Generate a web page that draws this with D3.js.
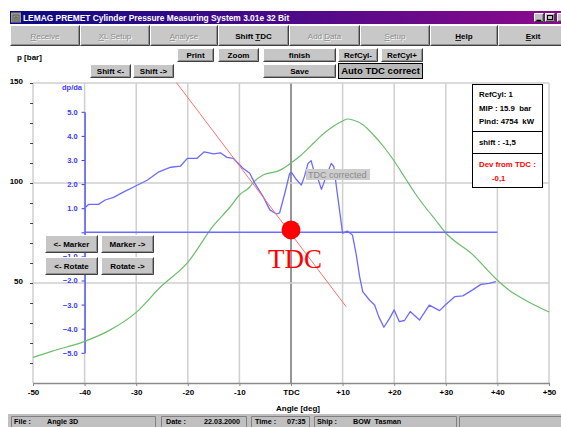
<!DOCTYPE html>
<html><head><meta charset="utf-8">
<script src="https://cdn.jsdelivr.net/npm/d3@7"></script>
<style>
body{margin:0;background:#fff;overflow:hidden}
svg{display:block;font-family:"Liberation Sans",Arial,sans-serif}
</style>
</head><body>
<svg id="c" width="561" height="427"></svg>
<script>
// ---------------- data ----------------
const angleTicks = [-50,-40,-30,-20,-10,0,10,20,30,40,50];
const pressureTicks = [10,20,30,40,50,60,70,80,90,100,110,120,130,140,150];
const pressureLabels = [50,100,150];
const dpTicks = [-5,-4,-3,-2,-1,0,1,2,3,4,5];
const dpLabels = [-5,-4,-3,-2,-1,1,2,3,4,5];

// cylinder pressure p [bar] vs crank angle
const pressureAngles = [-50,-46.4,-40,-35.2,-30,-25.3,-20,-15,-11.8,-10,-8,-7.4,-5.4,-2.2,0,2,4.6,6,8,10,11,12,14,16,18,20,22,24,26,28,30,35,40,42.3,45,50];
const pressureValues = [12.8,15.8,20.8,26.3,35.3,48,60.3,78.8,88,94,98,100,104,106.3,110,114,120.5,124,128,131,132,131.5,129,124,118,111,103,95,88,81.5,75,64.7,51.4,46.4,42,35.5];

// pressure rise rate dp/da vs crank angle
const dpAngles = [-40,-39.2,-37.3,-36,-34.4,-32.4,-30.1,-27.8,-25.6,-23.3,-21.4,-20.1,-18.2,-16.8,-15,-13.7,-12.4,-11.2,-9.3,-8,-7,-5.4,-4.1,-2.8,-2.2,-1.2,-0.25,0.1,1,2,2.6,3.3,3.9,4.4,5.2,5.9,6.8,7.8,8.3,8.8,9.4,10,10.9,11.9,12.6,13.3,13.9,15.2,16.2,17,18,19.1,20,21,22,23.1,24.9,26.8,28.8,29.9,31.7,33.3,35.2,36.8,38.4,39.7];
const dpValues = [1.0,1.16,1.16,1.34,1.45,1.68,1.92,2.17,2.51,2.70,2.75,3.07,3.07,3.34,3.25,3.30,3.11,3.07,2.66,2.45,2.03,1.48,0.93,0.76,0.81,1.62,2.45,2.49,2.20,1.96,2.31,2.86,2.97,2.58,2.24,1.78,2.31,2.86,2.72,1.89,0.93,-0.04,0.05,-0.11,-0.87,-1.84,-2.46,-2.81,-3.02,-3.50,-3.94,-3.57,-3.22,-3.71,-3.66,-3.29,-3.64,-3.02,-3.25,-3.02,-2.67,-2.64,-2.39,-2.16,-2.12,-2.05];

// zero reference line of dp/da and the tangent line
const zeroLineAngles = [-40,40];
const zeroLineValues = [0,0];
const tangentAngles = [-22.2,10.7];
const tangentValues = [6.21,-3.09];
const tdcPointAngle = [0];
const tdcPointValue = [0.1];

const infoLines = ["RefCyl: 1","MIP : 15.9  bar","Pind: 4754  kW"];
const shiftText = "shift : -1,5";
const devTexts = ["Dev from TDC :","-0,1"];

const menuItems = ["Receive","XL Setup","Analyse","Shift TDC","Add Data","Setup","Help","Exit"];
const menuUnder = [0,0,0,6,4,0,0,0];
const menuEnabled = [false,false,false,true,false,false,true,true];

const statusTexts = [["File :",14],["Angle 3D",47],["Date :",166],["22.03.2000",204],["Time :",255],["07:35",287],["Ship :",317],["BOW  Tasman",353]];

// ---------------- drawing ----------------
const svg = d3.select("#c");

function bevel(g, x0, y0, w, h, fill, pressed){
  g.append("rect").attr("x",x0).attr("y",y0).attr("width",w).attr("height",h).attr("fill",fill);
  const hi = pressed ? "#404040" : "#ffffff";
  const lo = pressed ? "#ffffff" : "#404040";
  g.append("path").attr("d",`M${x0+0.5},${y0+h-0.5}V${y0+0.5}H${x0+w-0.5}`).attr("fill","none").attr("stroke",hi);
  g.append("path").attr("d",`M${x0+0.5},${y0+h-0.5}H${x0+w-0.5}V${y0+0.5}`).attr("fill","none").attr("stroke",lo);
  if(!pressed) g.append("path").attr("d",`M${x0+1.5},${y0+h-1.5}H${x0+w-1.5}V${y0+1.5}`).attr("fill","none").attr("stroke","#909090");
}
function button(x0,y0,w,h,label,opt={}){
  const g = svg.append("g");
  bevel(g,x0,y0,w,h,opt.fill||"#c6c6c6",opt.pressed);
  if(opt.border) g.append("rect").attr("x",x0+0.5).attr("y",y0+0.5).attr("width",w-1).attr("height",h-1).attr("fill","none").attr("stroke","#000");
  g.append("text").attr("x",x0+w/2).attr("y",y0+h/2).attr("dy","0.35em").attr("text-anchor","middle")
    .attr("font-size",opt.size||8).attr("font-weight",opt.weight||"bold").attr("fill","#000").text(label);
  return g;
}

// title bar
const grad = svg.append("defs").append("linearGradient").attr("id","tg");
grad.append("stop").attr("offset","0").attr("stop-color","#0a0a84");
grad.append("stop").attr("offset","1").attr("stop-color","#8c0a8c");
svg.append("rect").attr("x",10).attr("y",11).attr("width",551).attr("height",13).attr("fill","url(#tg)");
svg.append("rect").attr("x",11).attr("y",12.5).attr("width",10).attr("height",10).attr("fill","#9a9a8a");
svg.append("path").attr("d","M13,22V15H19V22M15,22V17H17V22").attr("fill","none").attr("stroke","#505040").attr("stroke-width",0.8);
svg.append("text").attr("x",23).attr("y",21).attr("font-size",8.4).attr("font-weight","bold").attr("fill","#fff")
  .text("LEMAG PREMET Cylinder Pressure Measuring System 3.01e 32 Bit");
[534,545,557].forEach(bx=>{ const g=svg.append("g"); bevel(g,bx,13,10,9,"#c0c0c0"); });
svg.append("path").attr("d","M536.5,20.5H541").attr("stroke","#000").attr("stroke-width",1.5);
svg.append("rect").attr("x",547.5).attr("y",15.5).attr("width",5).attr("height",4).attr("fill","none").attr("stroke","#000");

// menu bar
svg.append("rect").attr("x",10).attr("y",25).attr("width",551).attr("height",21).attr("fill","#c0c0c0");
const menuX = [10,80,150,218,289,360,430,498,568];
menuItems.forEach((m,i)=>{
  const g = svg.append("g");
  const x0 = menuX[i], w = menuX[i+1]-menuX[i];
  bevel(g,x0,25,w,21,"#c8c8c8");
  const cx = x0+w/2;
  const mk = (dx,dy,col)=>{
    const t = g.append("text").attr("x",cx+dx).attr("y",39+dy).attr("text-anchor","middle")
      .attr("font-size",8).attr("font-weight", menuEnabled[i]?"bold":"normal").attr("fill",col);
    const u = menuUnder[i];
    t.append("tspan").text(m.slice(0,u));
    t.append("tspan").attr("text-decoration","underline").text(m.slice(u,u+1));
    t.append("tspan").text(m.slice(u+1));
  };
  if(menuEnabled[i]) mk(0,0,"#000");
  else { mk(0.8,0.8,"#ffffff"); mk(0,0,"#8a8a8a"); }
});

// toolbar buttons
button(177,48,37,14,"Print");
button(218,48,41,14,"Zoom");
button(263,48,73,14,"finish");
button(338,48,40,14,"RefCyl-");
button(381,48,42,14,"RefCyl+");
button(90,64,41,14,"Shift <-");
button(133,64,41,14,"Shift ->");
button(263,64,73,14,"Save");
button(338,63,85,16,"Auto TDC correct",{pressed:true,border:true,fill:"#b8b8b8",size:9.5,weight:"bold"});

svg.append("text").attr("x",17).attr("y",60).attr("font-size",8).attr("font-weight","bold").text("p [bar]");

// scales
const x = d3.scaleLinear().domain([-50,50]).range([33,549]);
const yP = d3.scaleLinear().domain([0,150]).range([383,83]);
const yD = d3.scaleLinear().domain([-5,5]).range([352.8,111.8]);

// grid
const grid = svg.append("g");
grid.selectAll("line.v").data(angleTicks).join("line")
  .attr("x1",d=>x(d)).attr("x2",d=>x(d)).attr("y1",yP(150)).attr("y2",yP(0))
  .attr("stroke",d=>d===0?"#505050":"#cfcfcf").attr("stroke-width",d=>d===0?1.2:1.5);
grid.selectAll("line.h").data(pressureLabels).join("line")
  .attr("x1",x(-50)).attr("x2",x(50)).attr("y1",d=>yP(d)).attr("y2",d=>yP(d))
  .attr("stroke","#cfcfcf").attr("stroke-width",1.5);

// x axis
const xa = svg.append("g").attr("transform",`translate(0,${yP(0)})`)
  .call(d3.axisBottom(x).tickValues(angleTicks).tickSize(3).tickSizeOuter(0).tickPadding(3)
    .tickFormat(d=>d===0?"TDC":(d>0?"+"+d:String(d))));
xa.attr("font-family",null);
xa.select(".domain").attr("stroke","#8a8a8a").attr("stroke-width",1.5);
xa.selectAll(".tick line").attr("stroke","#8a8a8a");
xa.selectAll("text").attr("font-size",8).attr("font-weight","bold").attr("fill","#000");
svg.append("text").attr("x",298).attr("y",411).attr("text-anchor","middle").attr("font-size",8).attr("font-weight","bold").text("Angle [deg]");

// left pressure axis
const ya = svg.append("g").attr("transform",`translate(${x(-50)},0)`)
  .call(d3.axisLeft(yP).tickValues(pressureTicks).tickSize(3).tickSizeOuter(0).tickPadding(7)
    .tickFormat(d=>pressureLabels.includes(d)?String(d):""));
ya.attr("font-family",null);
ya.select(".domain").remove();
ya.selectAll(".tick line").attr("stroke","#404040");
ya.selectAll("text").attr("font-size",8).attr("font-weight","bold").attr("fill","#000").attr("dy","0.1em");

// dp/da axis
const blue = "#3a3aff";
const da = svg.append("g").attr("transform",`translate(${x(-40)},0)`)
  .call(d3.axisLeft(yD).tickValues(dpTicks).tickSize(3).tickSizeOuter(0).tickPadding(4)
    .tickFormat(d=>dpLabels.includes(d)?d3.format(".1f")(d):""));
da.attr("font-family",null);
da.select(".domain").attr("stroke",blue).attr("stroke-width",1.2);
da.selectAll(".tick line").attr("stroke",blue);
da.selectAll("text").attr("font-size",7.5).attr("font-weight","bold").attr("fill",blue);
svg.append("text").attr("x",82).attr("y",90).attr("text-anchor","end").attr("font-size",7.5).attr("font-weight","bold").attr("fill",blue).text("dp/da");

// curves
const lineP = d3.line().x((d,i)=>x(pressureAngles[i])).y(d=>yP(d)).curve(d3.curveMonotoneX);
svg.append("path").attr("d",lineP(pressureValues)).attr("fill","none").attr("stroke","#6cbd6c").attr("stroke-width",1.2);

const lineD = (angles)=>d3.line().x((d,i)=>x(angles[i])).y(d=>yD(d));
svg.append("path").attr("d",lineD(zeroLineAngles)(zeroLineValues)).attr("fill","none").attr("stroke","#6b6bff").attr("stroke-width",1.4);
svg.append("path").attr("d",lineD(dpAngles)(dpValues)).attr("fill","none").attr("stroke","#6b6bff").attr("stroke-width",1.3).attr("stroke-linejoin","round");
svg.append("path").attr("d",lineD(tangentAngles)(tangentValues)).attr("fill","none").attr("stroke","#ff6f6f").attr("stroke-width",1);

// TDC corrected label
svg.append("rect").attr("x",306).attr("y",169).attr("width",64).attr("height",11).attr("fill","#cdcdcd");
svg.append("text").attr("x",308).attr("y",178).attr("font-size",9).attr("fill","#8a8a8a").text("TDC corrected");

// TDC point
svg.selectAll("circle.tdc").data(tdcPointValue).join("circle")
  .attr("cx",(d,i)=>x(tdcPointAngle[i])).attr("cy",d=>yD(d)).attr("r",9.5).attr("fill","#ff0000");
svg.append("text").attr("x",x(0)-23).attr("y",268)
  .style("font-family","'Liberation Serif','Times New Roman',serif")
  .attr("font-size",27).attr("fill","#ff0000").text("TDC");

// marker / rotate buttons
button(45,235,53,18,"<- Marker");
button(101,235,53,18,"Marker ->");
button(45,257,53,18,"<- Rotate");
button(101,257,53,18,"Rotate ->");

// info box
svg.append("rect").attr("x",472.5).attr("y",84.5).attr("width",70).attr("height",103).attr("fill","#fff").attr("stroke","#000");
svg.append("line").attr("x1",472.5).attr("x2",542.5).attr("y1",131.5).attr("y2",131.5).attr("stroke","#000");
svg.append("line").attr("x1",472.5).attr("x2",542.5).attr("y1",153.5).attr("y2",153.5).attr("stroke","#000");
infoLines.forEach((t,i)=>svg.append("text").attr("x",479).attr("y",97+i*13.5).attr("font-size",7.8).attr("font-weight","bold").attr("xml:space","preserve").text(t));
svg.append("text").attr("x",479).attr("y",145).attr("font-size",7.8).attr("font-weight","bold").text(shiftText);
svg.append("text").attr("x",479).attr("y",167).attr("font-size",7.8).attr("font-weight","bold").attr("fill","#ff0000").text(devTexts[0]);
svg.append("text").attr("x",492).attr("y",181).attr("font-size",7.8).attr("font-weight","bold").attr("fill","#ff0000").text(devTexts[1]);

// status bar
svg.append("rect").attr("x",8).attr("y",414).attr("width",553).attr("height",13).attr("fill","#c0c0c0");
[[11,145],[161,86],[251,59],[314,143],[459,110]].forEach(([px,pw])=>{
  svg.append("path").attr("d",`M${px+0.5},427V${416.5}H${px+pw-0.5}V427`).attr("fill","none").attr("stroke","#808080");
});
statusTexts.forEach(([t,tx])=>svg.append("text").attr("x",tx).attr("y",424).attr("font-size",7.2).attr("font-weight","bold").attr("xml:space","preserve").text(t));
</script>
</body></html>
